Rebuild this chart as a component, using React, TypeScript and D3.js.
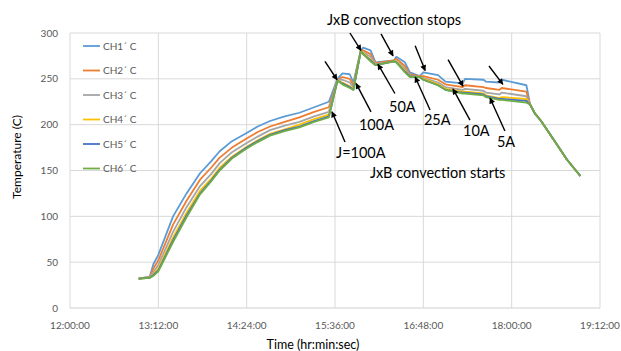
import * as d3 from "d3";

// sample times (hh:mm) shared by all channels
const times = [
  "12:56", "13:05", "13:08", "13:12", "13:24", "13:35", "13:46", "13:55", "14:02", "14:12",
  "14:24", "14:33", "14:43", "14:55", "15:07", "15:19", "15:31", "15:38", "15:42", "15:48",
  "15:51", "15:57", "15:59", "16:05", "16:09", "16:24", "16:26", "16:33", "16:37", "16:45",
  "16:48", "17:00", "17:06", "17:20", "17:22", "17:37", "17:39", "17:50", "17:52", "18:12",
  "18:15", "18:19", "18:24", "18:34", "18:45", "18:56",
];

const ch1 = [32, 34, 48, 58, 100, 125, 147, 160, 171, 182, 191, 198, 204, 209, 213, 219, 225, 250, 256, 255, 246, 281, 284, 281, 268, 270, 274, 268, 257, 253, 257, 254, 247, 245, 250, 249, 247, 246, 249, 243, 222, 212, 204, 184, 162, 144];
const ch2 = [32, 34, 43, 52, 91, 117, 140, 153, 164, 175, 185, 192, 198, 203, 208, 214, 219, 249, 252, 250, 243, 281, 281, 277, 267, 270, 272, 264, 255, 253, 253, 249, 244, 241, 243, 241, 240, 238, 240, 236, 222, 212, 204, 184, 162, 144];
const ch3 = [32, 34, 39, 47, 83, 110, 133, 146, 158, 170, 180, 187, 194, 199, 203, 209, 214, 249, 249, 246, 241, 280, 279, 274, 266, 269, 270, 261, 254, 252, 251, 246, 241, 238, 239, 237, 235, 233, 235, 231, 222, 212, 204, 184, 162, 144];
const ch4 = [32, 33, 37, 43, 77, 104, 128, 141, 153, 165, 176, 183, 190, 195, 200, 206, 211, 248, 246, 242, 239, 280, 278, 271, 265, 269, 269, 259, 253, 252, 250, 244, 239, 236, 236, 234, 232, 229, 230, 228, 222, 212, 204, 184, 162, 144];
const ch5 = [32, 33, 36, 41, 74, 101, 125, 139, 151, 164, 175, 182, 189, 194, 198, 204, 209, 248, 245, 241, 238, 280, 277, 270, 265, 269, 268, 258, 253, 252, 249, 243, 238, 235, 235, 233, 231, 228, 228, 226, 222, 212, 204, 184, 162, 144];
const ch6 = [32, 33, 35, 40, 72, 99, 124, 138, 150, 163, 174, 181, 188, 193, 197, 203, 208, 248, 244, 240, 238, 280, 277, 269, 265, 269, 268, 257, 252, 252, 249, 243, 238, 234, 234, 232, 230, 227, 227, 224, 222, 212, 204, 184, 162, 144];

const seriesNames = ["CH1ˊ C", "CH2ˊ C", "CH3ˊ C", "CH4ˊ C", "CH5ˊ C", "CH6ˊ C"];
const seriesValues = [ch1, ch2, ch3, ch4, ch5, ch6];
const seriesColors = ["#5B9BD5", "#ED7D31", "#A5A5A5", "#FFC000", "#4472C4", "#70AD47"];

const xTickLabels = ["12:00:00", "13:12:00", "14:24:00", "15:36:00", "16:48:00", "18:00:00", "19:12:00"];
const yTicks = [0, 50, 100, 150, 200, 250, 300];

// annotations, in data space (time, temperature)
const noteTexts = [
  { text: "JxB convection stops", t: "15:29:30", v: 309 },
  { text: "JxB convection starts", t: "16:04:30", v: 142 },
  { text: "J=100A", t: "15:36:50", v: 164 },
  { text: "100A", t: "15:55:30", v: 194 },
  { text: "50A", t: "16:20:00", v: 214 },
  { text: "25A", t: "16:48:30", v: 200 },
  { text: "10A", t: "17:20:20", v: 188 },
  { text: "5A", t: "17:48:00", v: 176 },
];

const arrows = [
  { t0: "15:27:50", v0: 269, t1: "15:37:40", v1: 249 },
  { t0: "15:48:10", v0: 300, t1: "15:57:10", v1: 281 },
  { t0: "16:13:30", v0: 299, t1: "16:23:20", v1: 275 },
  { t0: "16:41:20", v0: 286, t1: "16:49:30", v1: 259 },
  { t0: "17:08:10", v0: 271, t1: "17:20:20", v1: 242 },
  { t0: "17:41:30", v0: 264, t1: "17:52:50", v1: 244 },
  { t0: "15:44:10", v0: 181, t1: "15:33:30", v1: 214 },
  { t0: "16:05:20", v0: 214, t1: "15:53:10", v1: 245 },
  { t0: "16:24:50", v0: 234, t1: "16:11:00", v1: 266 },
  { t0: "16:53:30", v0: 216, t1: "16:41:20", v1: 252 },
  { t0: "17:26:00", v0: 205, t1: "17:12:10", v1: 239 },
  { t0: "17:54:30", v0: 193, t1: "17:42:20", v1: 229 },
];

const W = 621;
const H = 351;
const FONT = "Lato, 'Open Sans', sans-serif";

const parseHM = d3.timeParse("%H:%M");
const parseHMS = d3.timeParse("%H:%M:%S");

export default function App() {
  const x = d3.scaleTime()
    .domain([parseHMS(xTickLabels[0])!, parseHMS(xTickLabels[xTickLabels.length - 1])!])
    .range([70, 600]);
  const y = d3.scaleLinear().domain([0, 300]).range([308, 33]);

  const line = d3.line<[Date, number]>()
    .x(d => x(d[0]))
    .y(d => y(d[1]));

  const dates = times.map(t => parseHM(t)!);

  return (
    <svg width={W} height={H} style={{ position: "absolute", left: 0, top: 0, background: "#fff" }}
      fontFamily={FONT}>
      <defs>
        <marker id="head" viewBox="0 0 10 10" refX="9" refY="5" markerWidth="7" markerHeight="6"
          markerUnits="userSpaceOnUse" orient="auto">
          <path d="M0,0 L10,5 L0,10 z" fill="#000" />
        </marker>
      </defs>

      {/* grid */}
      {yTicks.map(v => (
        <line key={"gy" + v} x1={70} x2={600} y1={y(v)} y2={y(v)}
          stroke={v === 0 ? "#cfcfcf" : "#d9d9d9"} strokeWidth={1} />
      ))}
      {xTickLabels.map(l => (
        <line key={"gx" + l} x1={x(parseHMS(l)!)} x2={x(parseHMS(l)!)} y1={y(300)} y2={y(0)}
          stroke="#d9d9d9" strokeWidth={1} />
      ))}

      {/* tick labels */}
      {yTicks.map(v => (
        <text key={"ty" + v} x={58} y={y(v) + 3.5} textAnchor="end" fontSize={10} fill="#595959">{v}</text>
      ))}
      {xTickLabels.map(l => (
        <text key={"tx" + l} x={x(parseHMS(l)!)} y={329} textAnchor="middle" fontSize={10} fill="#595959">{l}</text>
      ))}

      {/* axis titles */}
      <text transform={`translate(21,157) rotate(-90)`} textAnchor="middle" fontSize={12} fill="#000">
        Temperature (C)
      </text>
      <text x={313} y={349} textAnchor="middle" fontSize={12.5} fill="#000">Time (hr:min:sec)</text>

      {/* series */}
      {seriesValues.map((vals, i) => (
        <path key={"s" + i}
          d={line(vals.map((v, j) => [dates[j], v] as [Date, number])) || ""}
          fill="none" stroke={seriesColors[i]} strokeWidth={1.8} strokeLinejoin="round" />
      ))}

      {/* legend */}
      {seriesNames.map((n, i) => (
        <g key={"lg" + i} transform={`translate(83,${46 + i * 24.5})`}>
          <line x1={0} x2={17} y1={0} y2={0} stroke={seriesColors[i]} strokeWidth={1.8} />
          <text x={20} y={3.5} fontSize={10} fill="#595959">{n}</text>
        </g>
      ))}

      {/* annotations */}
      {arrows.map((a, i) => (
        <line key={"ar" + i}
          x1={x(parseHMS(a.t0)!)} y1={y(a.v0)} x2={x(parseHMS(a.t1)!)} y2={y(a.v1)}
          stroke="#000" strokeWidth={1.4} markerEnd="url(#head)" />
      ))}
      {noteTexts.map((n, i) => (
        <text key={"nt" + i} x={x(parseHMS(n.t)!)} y={y(n.v)} fontSize={14.5} fill="#000">{n.text}</text>
      ))}
    </svg>
  );
}
